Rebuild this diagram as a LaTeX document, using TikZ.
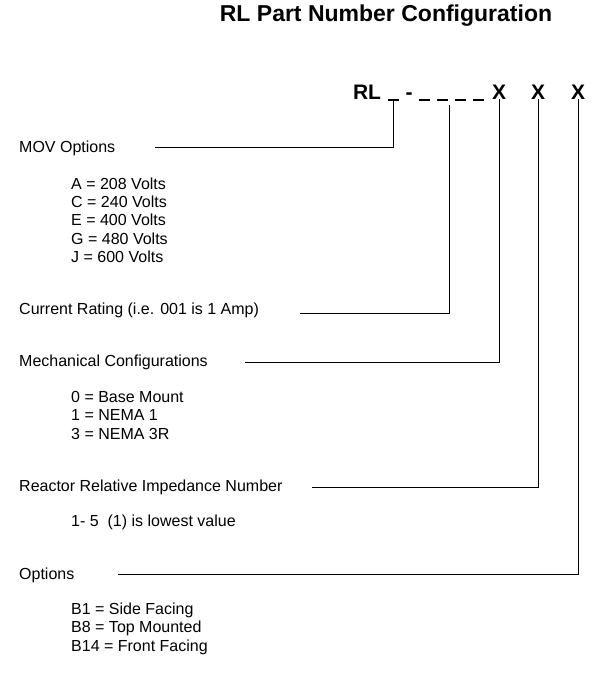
\documentclass[tikz,border=0pt]{standalone}
\usepackage{fontspec}
\setmainfont{Liberation Sans}
\begin{document}
\begin{tikzpicture}[x=1pt,y=-1pt,
    lbl/.style={anchor=west,font=\fontsize{16}{18}\selectfont,inner sep=0pt},
    hdr/.style={font=\fontsize{21}{24}\selectfont\bfseries,inner sep=0pt},
    blank/.style={fill=black,inner sep=0pt,minimum width=11pt,minimum height=2.2pt},
    lead/.style={line width=0.8pt}]
                \useasboundingbox (0,0) rectangle (609,674);
                \node[hdr,font=\fontsize{23}{27}\selectfont\bfseries] (title) at (386,16) {RL Part Number Configuration};

                \node[hdr] (rl) at (367,92) {RL};
                \node[blank] (u1) at (393,100) {};
                \node[hdr] (dash) at (409,96) {-};
                \node[blank] (u2) at (424,100) {};
                \node[blank] (u3) at (442,100) {};
                \node[blank] (u4) at (460,100) {};
                \node[blank] (u5) at (478,100) {};
                \node[hdr] (x1) at (499,92) {X};
                \node[hdr] (x2) at (538,92) {X};
                \node[hdr] (x3) at (578,92) {X};

                \node[lbl] (mov) at (19,148) {MOV Options};
                \node[lbl] (a) at (71,184) {A = 208 Volts};
                \node[lbl] (c) at (71,202) {C = 240 Volts};
                \node[lbl] (e) at (71,220) {E = 400 Volts};
                \node[lbl] (g) at (71,239) {G = 480 Volts};
                \node[lbl] (j) at (71,257) {J = 600 Volts};

                \node[lbl] (cur) at (19,310) {Current Rating (i.e. 001 is 1 Amp)};

                \node[lbl] (mech) at (19,362) {Mechanical Configurations};
                \node[lbl] (m0) at (71,397) {0 = Base Mount};
                \node[lbl] (m1) at (71,415) {1 = NEMA 1};
                \node[lbl] (m3) at (71,434) {3 = NEMA 3R};

                \node[lbl] (imp) at (19,487) {Reactor Relative Impedance Number};
                \node[lbl] (rng) at (71,522) {1- 5\ \ (1) is lowest value};

                \node[lbl] (opt) at (19,575) {Options};
                \node[lbl] (b1) at (71,610) {B1 = Side Facing};
                \node[lbl] (b8) at (71,628) {B8 = Top Mounted};
                \node[lbl] (b14) at (71,647) {B14 = Front Facing};

                \coordinate (S2) at (449,105);
                \coordinate (P1) at (393,147);
                \coordinate (E1) at (155,147);
                \coordinate (P2) at (449,313);
                \coordinate (E2) at (300,313);
                \coordinate (P3) at (499,362);
                \coordinate (E3) at (245,362);
                \coordinate (P4) at (538,487);
                \coordinate (E4) at (312,487);
                \coordinate (P5) at (578,574);
                \coordinate (E5) at (118,574);

                \draw[lead] (u1.south) -- (P1) -- (E1);
                \draw[lead] (S2) -- (P2) -- (E2);
                \draw[lead] (x1.south) -- (P3) -- (E3);
                \draw[lead] (x2.south) -- (P4) -- (E4);
                \draw[lead] (x3.south) -- (P5) -- (E5);
            \end{tikzpicture}
\end{document}
